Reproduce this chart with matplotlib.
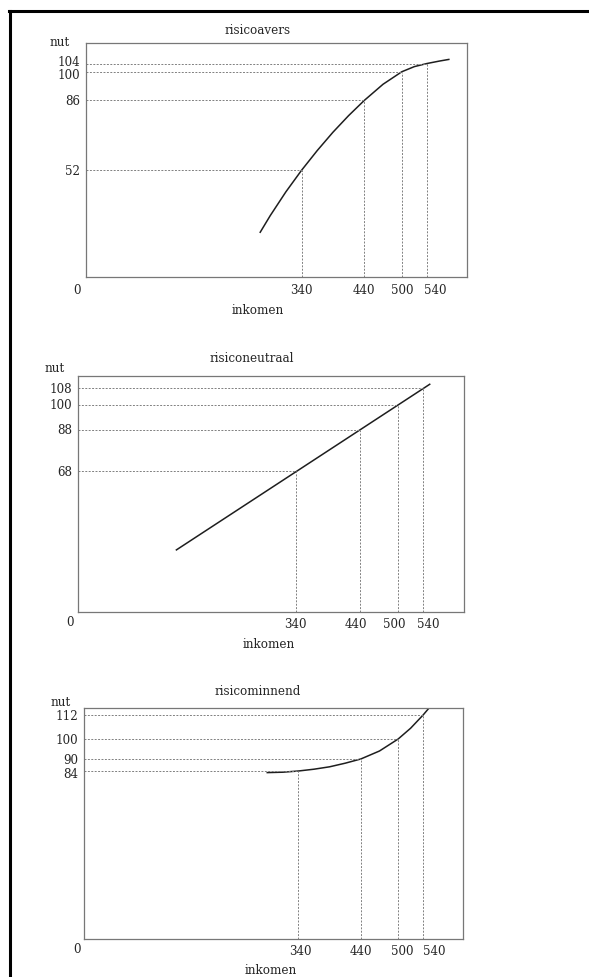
import matplotlib.pyplot as plt
from matplotlib.lines import Line2D

ref_inkomen = [340, 440, 500, 540]

# risicoavers: concave curve
avers_x = [274, 290, 315, 340, 365, 390, 415, 440, 470, 500, 520, 540, 560, 575]
avers_y = [21.8, 29.9, 41.5, 52, 61.6, 70.5, 78.6, 86, 93.9, 100, 102.5, 104, 105.2, 106]
avers_ref = [52, 86, 100, 104]

# risiconeutraal: straight line
neutraal_x = [151, 550]
neutraal_y = [30, 110]
neutraal_ref = [68, 88, 100, 108]

# risicominnend: convex curve
minnend_x = [290, 315, 340, 365, 390, 415, 440, 470, 500, 520, 540, 552]
minnend_y = [83.2, 83.4, 84, 84.9, 86.1, 87.9, 90, 94.0, 100, 105.4, 112, 116.4]
minnend_ref = [84, 90, 100, 112]

W, H = 589, 978
TXT = "#262626"
FONT = "DejaVu Serif"
FS = 8.6
PT = 0.72  # points per pixel at 100 dpi

fig = plt.figure(figsize=(W / 100, H / 100), dpi=100)


def px_axes(left, top, right, bottom):
    return fig.add_axes([left / W, 1 - bottom / H, (right - left) / W, (bottom - top) / H])


def draw_panel(box, title, cx, cy, refy, ylim, ynudge, xnudge, title_xy, nut_xy, ink_xy, zero_xy):
    ax = px_axes(*box)
    x0, x1 = -4, 604
    ax.set_xlim(x0, x1)
    ax.set_ylim(*ylim)
    ax.plot(cx, cy, color="#1e1e1e", lw=1.1)
    for xv, yv in zip(ref_inkomen, refy):
        ax.plot([x0, xv], [yv, yv], color="#808080", lw=0.7, ls=(0, (2, 1.5)))
        ax.plot([xv, xv], [0, yv], color="#808080", lw=0.7, ls=(0, (2, 1.5)))
    ax.set_xticks([])
    ax.set_yticks([])
    # tick labels drawn as annotations so they can sit a little off their lines, as in the print
    for yv, dy in zip(refy, ynudge):
        ax.annotate(str(yv), xy=(0, yv), xycoords=("axes fraction", "data"),
                    xytext=(-4, dy * PT), textcoords="offset points", ha="right", va="center",
                    fontsize=FS, family=FONT, color=TXT)
    for xv, dx in zip(ref_inkomen, xnudge):
        ax.annotate(str(xv), xy=(xv, 0), xycoords=("data", "axes fraction"),
                    xytext=(dx * PT, -12 * PT), textcoords="offset points", ha="center", va="center",
                    fontsize=FS, family=FONT, color=TXT)
    for sp in ax.spines.values():
        sp.set_color("#777777")
        sp.set_linewidth(0.9)
    for txt, xy in [(title, title_xy), ("nut", nut_xy), ("inkomen", ink_xy), ("0", zero_xy)]:
        fig.text(xy[0] / W, 1 - xy[1] / H, txt, ha="center", va="center",
                 fontsize=FS, family=FONT, color=TXT)
    return ax


draw_panel((86, 44, 467, 278), "risicoavers", avers_x, avers_y, avers_ref, (0, 114),
           [0, 0, -2.8, 1.6], [0, 0, 0, 8], (258, 30), (60, 42), (258, 310), (77, 290))
draw_panel((78, 377, 464, 613), "risiconeutraal", neutraal_x, neutraal_y, neutraal_ref, (0, 114),
           [0, 0, 0, 0], [-1, -4, -4, 5], (252, 359), (55, 369), (269, 645), (70, 622))
draw_panel((84, 709, 463, 940), "risicominnend", minnend_x, minnend_y, minnend_ref, (0, 115.5),
           [-2, 0, 0, 0], [2, 0, 4, 11], (258, 692), (61, 703), (271, 971), (77, 950))

# page frame: top and left edge only
fig.add_artist(Line2D([9 / W, 1], [1 - 12 / H, 1 - 12 / H], color="black", lw=2.2,
                      transform=fig.transFigure))
fig.add_artist(Line2D([10 / W, 10 / W], [0, 1 - 12 / H], color="black", lw=2.2,
                      transform=fig.transFigure))

fig.savefig("out.png", dpi=100)
